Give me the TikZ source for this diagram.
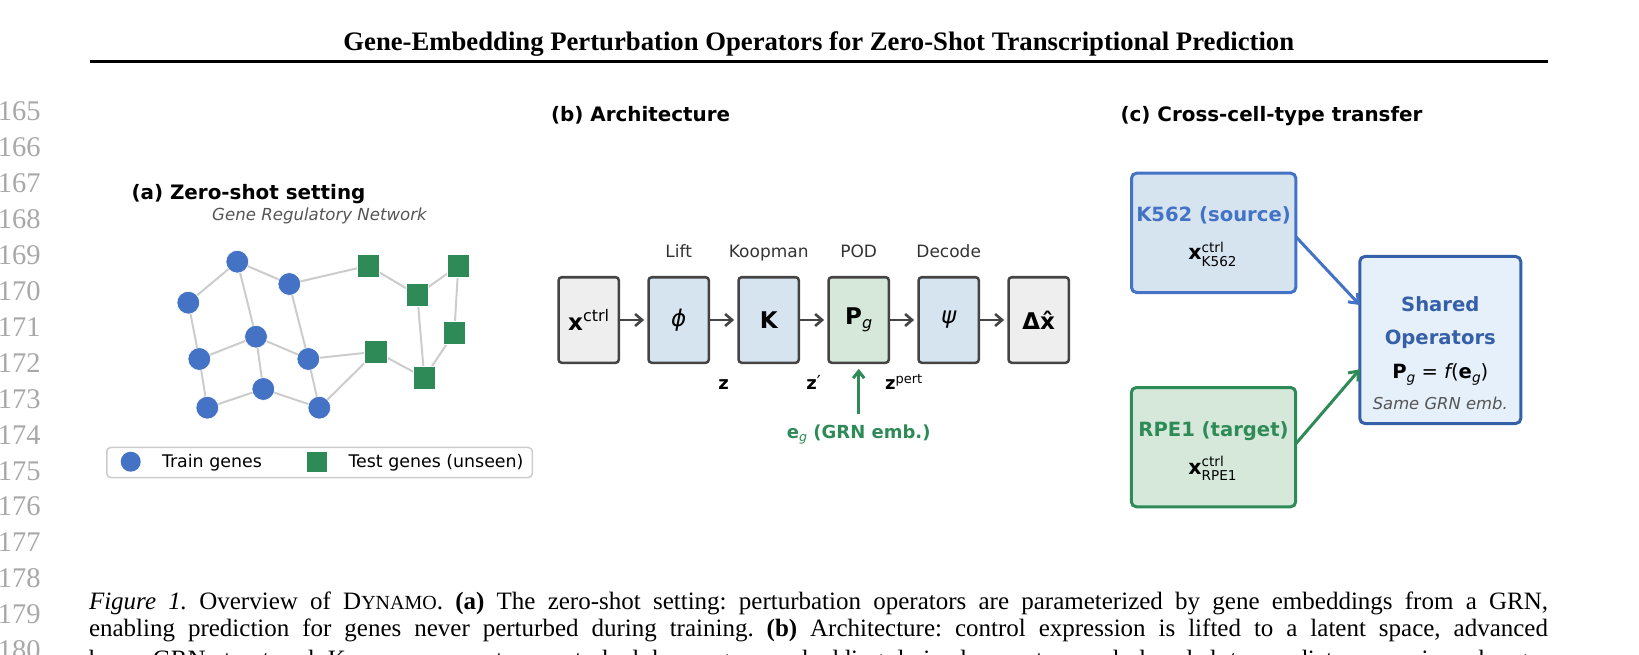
\documentclass[tikz,border=0pt]{standalone}
\usepackage{fontspec}
\setmainfont{Liberation Serif}
\newfontfamily\dv{DejaVu Sans}
\usetikzlibrary{arrows.meta,calc}
\pgfdeclarelayer{bg}
\pgfsetlayers{bg,main}
\definecolor{blueA}{HTML}{4472C4}
\definecolor{greenA}{HTML}{2E8B57}
\definecolor{edgeG}{HTML}{CCCCCC}
\definecolor{bord}{HTML}{444444}
\definecolor{fillBlue}{HTML}{D6E4F0}
\definecolor{fillGreen}{HTML}{D5E8DA}
\definecolor{fillGray}{HTML}{EEEEEE}
\definecolor{fillShared}{HTML}{E6F0FA}
\definecolor{blueDark}{HTML}{3560A8}
\definecolor{txtDark}{HTML}{333333}
\definecolor{txtGray}{HTML}{555555}
\definecolor{lnGray}{HTML}{A8A8A8}
\newcommand\fs[1]{\fontsize{#1}{#1}\selectfont}
\frenchspacing
\begin{document}
\begin{tikzpicture}[x=1pt,y=-1pt,
  every node/.style={inner sep=0pt,outer sep=0pt},
  lnum/.style={anchor=base west,font=\fs{28.5},text=lnGray},
  ttl/.style={anchor=base west,font=\dv\bfseries\fs{19.9}},
  gnode/.style={circle,fill=blueA,draw=white,line width=0.6,minimum size=22.7},
  tnode/.style={rectangle,fill=greenA,draw=white,line width=0.6,minimum size=22.7},
  gedge/.style={draw=edgeG,line width=2},
  blk/.style={draw=bord,line width=2.5,rounded corners=3,minimum width=60.2,minimum height=85.5,font=\dv\fs{23}},
  toplab/.style={anchor=base,font=\dv\fs{17},text=txtDark},
  zlab/.style={anchor=base,font=\dv\fs{18}},
  arr/.style={draw=bord,line width=2.6,-{Straight Barb[length=7pt,width=12pt]},shorten <=1.2pt,shorten >=4.5pt},
  cbox/.style={line width=3,rounded corners=5,minimum width=164.3,minimum height=119.3},
  carr/.style={line width=3,-{Straight Barb[length=8pt,width=13pt]}},
  legtxt/.style={anchor=base west,font=\dv\fs{17.4}},
  captxt/.style={anchor=base west,font=\fs{25}},
  ]
\useasboundingbox (0,0) rectangle (1639,655);
\clip (0,0) rectangle (1639,655);
% line numbers
\foreach \n [count=\i from 0] in {165,166,167,168,169,170,171,172,173,174,175,176,177,178,179,180}
  \node[lnum] (ln\n) at (-2,121+35.9*\i) {\n};
% running title
\node[anchor=base,font=\fs{26.7}\bfseries] (title) at (818.75,51) {Gene-Embedding Perturbation Operators for Zero-Shot Transcriptional Prediction};
\draw[line width=2.7] (90,61.7) -- (1548,61.7);
% caption
\node[captxt] (cap1) at (89,609) {\makebox[1459pt][s]{\textit{Figure 1.} Overview of D{\fs{20}YNAMO}. \textbf{(a)} The zero-shot setting: perturbation operators are parameterized by gene embeddings from a GRN,}};
\node[captxt] (cap2) at (89,636) {\makebox[1459pt][s]{enabling prediction for genes never perturbed during training. \textbf{(b)} Architecture: control expression is lifted to a latent space, advanced}};
\node[captxt] (cap3) at (89,667) {\makebox[1459pt][s]{by a GRN-structured Koopman operator, perturbed by a gene-embedding-derived operator, and decoded to predict expression changes}};
% ---------- panel (a)
\node[ttl] (ta) at (131.5,200) {(a) Zero-shot setting};
\node[anchor=base,font=\dv\itshape\fs{16.6},text=txtGray] (grn) at (319.5,221) {Gene Regulatory Network};
\node[gnode] (g1) at (237.3,261.7) {};
\node[gnode] (g2) at (289.3,284) {};
\node[gnode] (g3) at (188.3,302.7) {};
\node[gnode] (g4) at (256,336.7) {};
\node[gnode] (g5) at (199.3,359) {};
\node[gnode] (g6) at (308.3,359) {};
\node[gnode] (g7) at (263.3,389) {};
\node[gnode] (g8) at (207.3,407.7) {};
\node[gnode] (g9) at (319.3,407.7) {};
\node[tnode] (s1) at (368.3,265.7) {};
\node[tnode] (s2) at (458.3,265.7) {};
\node[tnode] (s3) at (417.3,295) {};
\node[tnode] (s4) at (454.3,332.7) {};
\node[tnode] (s5) at (376,351.7) {};
\node[tnode] (s6) at (424.3,377.7) {};
\begin{pgfonlayer}{bg}
\foreach \a/\b in {g1/g3,g1/g2,g1/g4,g2/g6,g2/s1,g3/g5,g4/g5,g4/g6,g4/g7,g5/g8,g7/g8,g7/g9,g6/g9,g6/s5,g9/s5,s1/s3,s3/s2,s2/s4,s3/s6,s4/s6,s5/s6}
  \draw[gedge] (\a.center) -- (\b.center);
\end{pgfonlayer}
% legend
\node[draw=edgeG,line width=1.5,rounded corners=4,fill=white,minimum width=425.5,minimum height=30.1] (leg) at (319.5,462.5) {};
\node[circle,fill=blueA,minimum size=20] (legc) at (130.7,461.7) {};
\node[legtxt] (legct) at (162,467.8) {Train genes};
\node[rectangle,fill=greenA,minimum size=20] (legs) at (317,461.7) {};
\node[legtxt] (legst) at (348.5,467.8) {Test genes (unseen)};
% ---------- panel (b)
\node[ttl] (tb) at (551,122) {(b) Architecture};
\node[blk,fill=fillGray] (bx) at (588.7,320) {{\bfseries x}\raisebox{8.5pt}{\fs{16}ctrl}};
\node[blk,fill=fillBlue] (bphi) at (678.7,320) {\itshape ϕ};
\node[blk,fill=fillBlue] (bK) at (768.7,320) {\bfseries K};
\node[blk,fill=fillGreen] (bP) at (858.7,320) {{\bfseries P}\raisebox{-3.8pt}{\itshape\fs{16}g}};
\node[blk,fill=fillBlue] (bpsi) at (948.7,320) {\itshape ψ};
\node[blk,fill=fillGray] (bD) at (1038.7,320) {\bfseries Δx̂};
\node[toplab] (lLift) at (678.7,257.3) {Lift};
\node[toplab] (lKoop) at (768.7,257.3) {Koopman};
\node[toplab] (lPOD) at (858.7,257.3) {POD};
\node[toplab] (lDec) at (948.7,257.3) {Decode};
\draw[arr] (bx) -- (bphi);
\draw[arr] (bphi) -- (bK);
\draw[arr] (bK) -- (bP);
\draw[arr] (bP) -- (bpsi);
\draw[arr] (bpsi) -- (bD);
\node[zlab] (z1) at (723.7,389.5) {\bfseries z};
\node[zlab] (z2) at (813.7,389.5) {{\bfseries z}\raisebox{1pt}{′}};
\node[zlab] (z3) at (903.7,389.5) {{\bfseries z}\raisebox{6pt}{\fs{13}pert}};
\node[anchor=base,font=\dv\fs{18},text=greenA] (eg) at (858.7,438.5) {{\bfseries e}\raisebox{-3pt}{\itshape\fs{12.6}g}{\bfseries\ (GRN emb.)}};
\coordinate (egtop) at (858.7,414);
\draw[draw=greenA,line width=3,-{Straight Barb[length=7pt,width=11pt]},shorten >=6pt] (egtop) -- (bP.south);
% ---------- panel (c)
\node[ttl] (tc) at (1120.5,122) {(c) Cross-cell-type transfer};
\node[cbox,draw=blueA,fill=fillBlue] (k562) at (1213.65,232.85) {};
\node[cbox,draw=greenA,fill=fillGreen] (rpe) at (1213.5,447.15) {};
\node[cbox,draw=blueDark,fill=fillShared,minimum width=161,minimum height=167] (shared) at (1440.3,340) {};
\node[anchor=base,font=\dv\bfseries\fs{19.6},text=blueA] (k562t) at (1213.5,222) {K562 (source)};
\node[anchor=base,font=\dv\fs{20.5}] (k562x) at (1212.5,260) {{\bfseries x}\rlap{\raisebox{7.5pt}{\fs{13.6}ctrl}}\raisebox{-6pt}{\fs{13.6}K562}};
\node[anchor=base,font=\dv\bfseries\fs{19.6},text=greenA] (rpet) at (1213.5,436) {RPE1 (target)};
\node[anchor=base,font=\dv\fs{20.5}] (rpex) at (1212.5,474) {{\bfseries x}\rlap{\raisebox{7.5pt}{\fs{13.6}ctrl}}\raisebox{-6pt}{\fs{13.6}RPE1}};
\node[anchor=base,font=\dv\bfseries\fs{19.6},text=blueDark] (sh1) at (1440.3,311.5) {Shared};
\node[anchor=base,font=\dv\bfseries\fs{19.6},text=blueDark] (sh2) at (1440.3,344.5) {Operators};
\node[anchor=base,font=\dv\fs{19.6}] (sh3) at (1440.3,378.5) {{\bfseries P}\raisebox{-4pt}{\itshape\fs{13.7}g} = {\itshape f}({\bfseries e}\raisebox{-4pt}{\itshape\fs{13.7}g})};
\node[anchor=base,font=\dv\itshape\fs{16.4},text=txtGray] (sh4) at (1440.3,409.3) {Same GRN emb.};
\draw[carr,draw=blueA] ([yshift=-3.8pt]k562.east) -- ([yshift=35pt]shared.west);
\draw[carr,draw=greenA] ([yshift=3.2pt]rpe.east) -- ([yshift=-29.3pt]shared.west);
\end{tikzpicture}
\end{document}
